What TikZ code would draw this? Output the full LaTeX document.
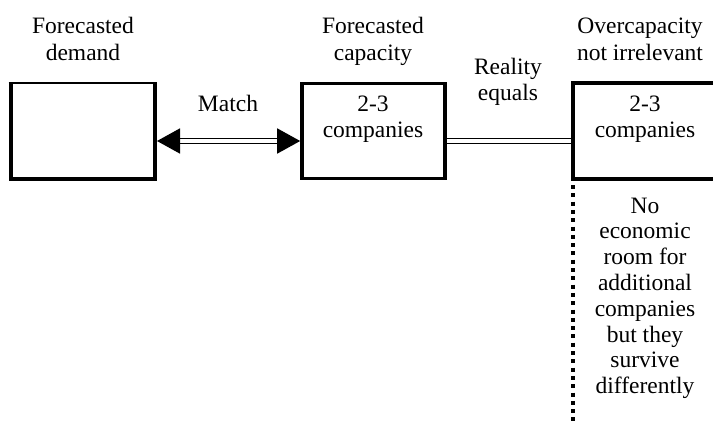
\documentclass[tikz,border=0pt]{standalone}
\usepackage{fontspec}
\setmainfont{Liberation Serif}
\usetikzlibrary{arrows.meta}
\begin{document}
\begin{tikzpicture}[x=1pt,y=-1pt,
  lbl/.style={align=center,anchor=base,inner sep=0pt,font=\fontsize{23.5}{26}\selectfont},
  hdr/.style={lbl,font=\fontsize{23.5}{27}\selectfont},
  boxn/.style={draw,line width=3.6pt,inner sep=0pt,outer sep=0pt},
  dbl/.style={double,line width=1.6pt,double distance=3.5pt},
  dotl/.style={line width=4pt,dash pattern=on 4pt off 4.3pt}
]
\useasboundingbox (0,0) rectangle (713,424);
\clip (0,0) rectangle (713,424);
% boxes
\node[inner sep=0pt,outer sep=0pt,minimum width=144.5pt,minimum height=96pt] (b1) at (82.75,131) {};
\draw[line width=4pt] (b1.north west) -- (b1.south west) -- (b1.south east) -- (b1.north east);
\draw[line width=2.2pt] ([xshift=-2pt]b1.north west) -- ([xshift=2pt]b1.north east);
\node[boxn,minimum width=143pt,minimum height=95pt] (b2) at (373.5,131) {};
\node[boxn,minimum width=157pt,minimum height=96pt] (b3) at (651.5,131) {};
% connectors
\draw[dbl,{Triangle[length=23pt,width=25pt]}-{Triangle[length=23pt,width=25pt]},shorten <=2pt,shorten >=1.8pt] ([yshift=-10pt]b1.east) -- ([yshift=-10pt]b2.west);
\draw[dbl,shorten <=1.8pt,shorten >=1.8pt] ([yshift=-10pt]b2.east) -- ([yshift=-10pt]b3.west);
\coordinate (dend) at (573,432);
\draw[dotl] ([yshift=-6pt]b3.south west) -- (dend);
% texts (anchor = baseline of last line)
\node[hdr] (hd) at (83,60) {Forecasted\\demand};
\node[hdr] (hc) at (373,60) {Forecasted\\capacity};
\node[hdr] (ho) at (640,60) {Overcapacity\\not irrelevant};
\node[lbl] (mt) at (228,111) {Match};
\node[lbl] (re) at (508,100) {Reality\\equals};
\node[lbl] (c2) at (373,137) {2-3\\companies};
\node[lbl] (c3) at (645,137) {2-3\\companies};
\node[lbl,font=\fontsize{23.5}{25.8}\selectfont] (nr) at (645,393.6) {No\\economic\\room for\\additional\\companies\\but they\\survive\\differently};
\end{tikzpicture}
\end{document}
